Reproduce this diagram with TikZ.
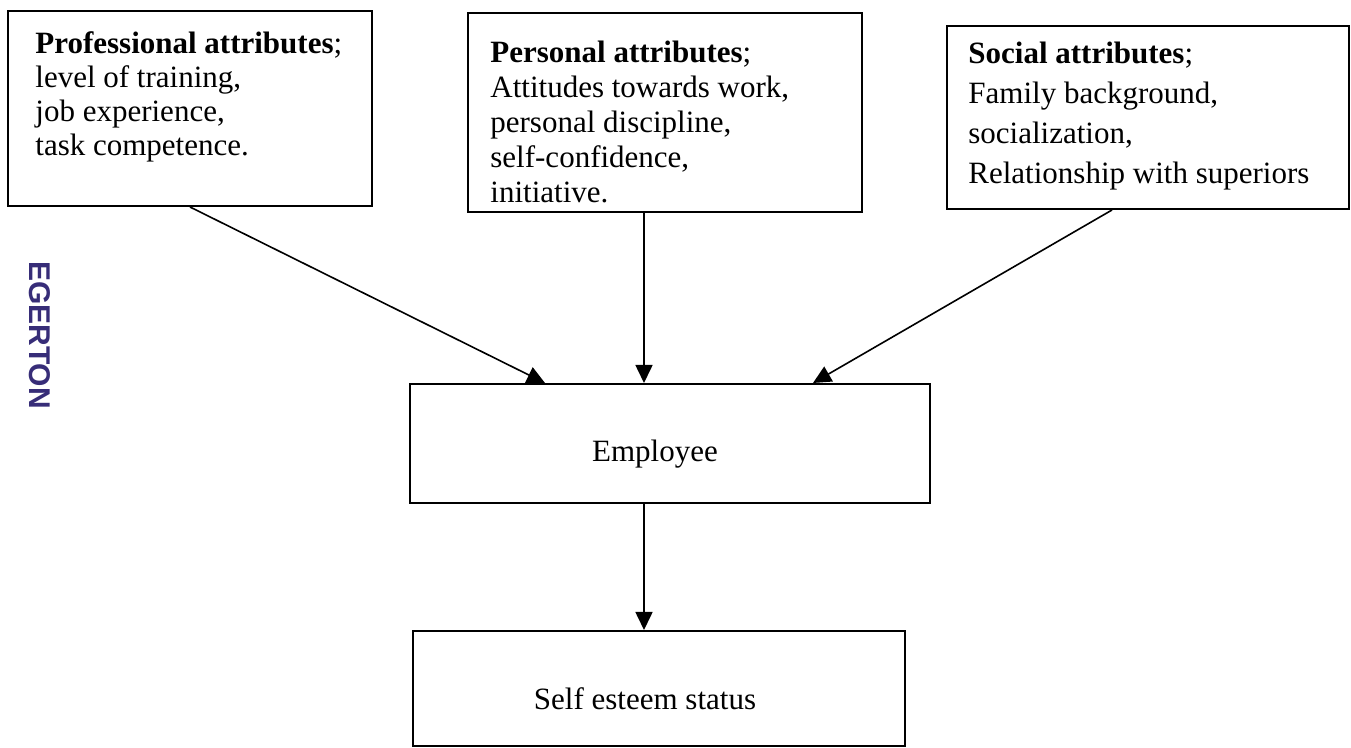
\documentclass[tikz,border=0pt]{standalone}
\usepackage{fontspec}
\setmainfont{Liberation Serif}
\newfontfamily\stampfont{Liberation Sans}
\usetikzlibrary{arrows.meta,calc,fit}
\definecolor{stampblue}{RGB}{55,45,120}
\begin{document}
\begin{tikzpicture}[x=0.5pt,y=-0.5pt,
  box/.style={draw=black, line width=1pt, fill=white, inner sep=0pt},
  txt/.style={inner sep=0pt, align=left, anchor=north west, text=black},
  conn/.style={line width=0.8pt, -{Triangle[length=9pt,width=8.5pt]}},
]
\useasboundingbox (0,0) rectangle (1351,748);
\fill[white] (0,0) rectangle (1351,748);

% boxes
\node[box, fit={(8,11) (372,206)}] (b1) {};
\node[box, fit={(468,13) (862,212)}] (b2) {};
\node[box, fit={(947,26) (1349,209)}] (b3) {};
\node[box, fit={(410,384) (930,503)}] (emp) {};
\node[box, fit={(413,631) (905,746)}] (self) {};

% texts
\node[txt, font=\fontsize{15.5pt}{17pt}\selectfont] (t1) at (35,31)
  {\textbf{Professional attributes};\\level of training,\\job experience,\\task competence.};
\node[txt, font=\fontsize{15.5pt}{17.5pt}\selectfont] (t2) at (490,41)
  {\textbf{Personal attributes};\\Attitudes towards work,\\personal discipline,\\self-confidence,\\initiative.};
\node[txt, font=\fontsize{15.5pt}{20pt}\selectfont] (t3) at (968,42)
  {\textbf{Social attributes};\\Family background,\\socialization,\\Relationship with superiors};
\node[inner sep=0pt, anchor=base, font=\fontsize{15.5pt}{17pt}\selectfont] (t4) at (655,462) {Employee};
\node[inner sep=0pt, anchor=base, font=\fontsize{15.5pt}{17pt}\selectfont] (t5) at (645,710) {Self esteem status};

% connectors
\draw[conn] (b1.south) -- ($(emp.north west)+(136,0)$);
\draw[conn] ($(b2.south west)+(177,0)$) -- ($(emp.north west)+(235,0)$);
\draw[conn] ($(b3.south west)+(166,0)$) -- ($(emp.north west)+(404,0)$);
\draw[conn] ($(emp.south west)+(235,0)$) -- ($(self.north west)+(232,0)$);

% library stamp
\node[inner sep=0pt, rotate=-90, text=stampblue, font=\stampfont\bfseries\fontsize{15pt}{17pt}\selectfont] (stamp) at (40,335) {EGERTON};
\end{tikzpicture}
\end{document}
